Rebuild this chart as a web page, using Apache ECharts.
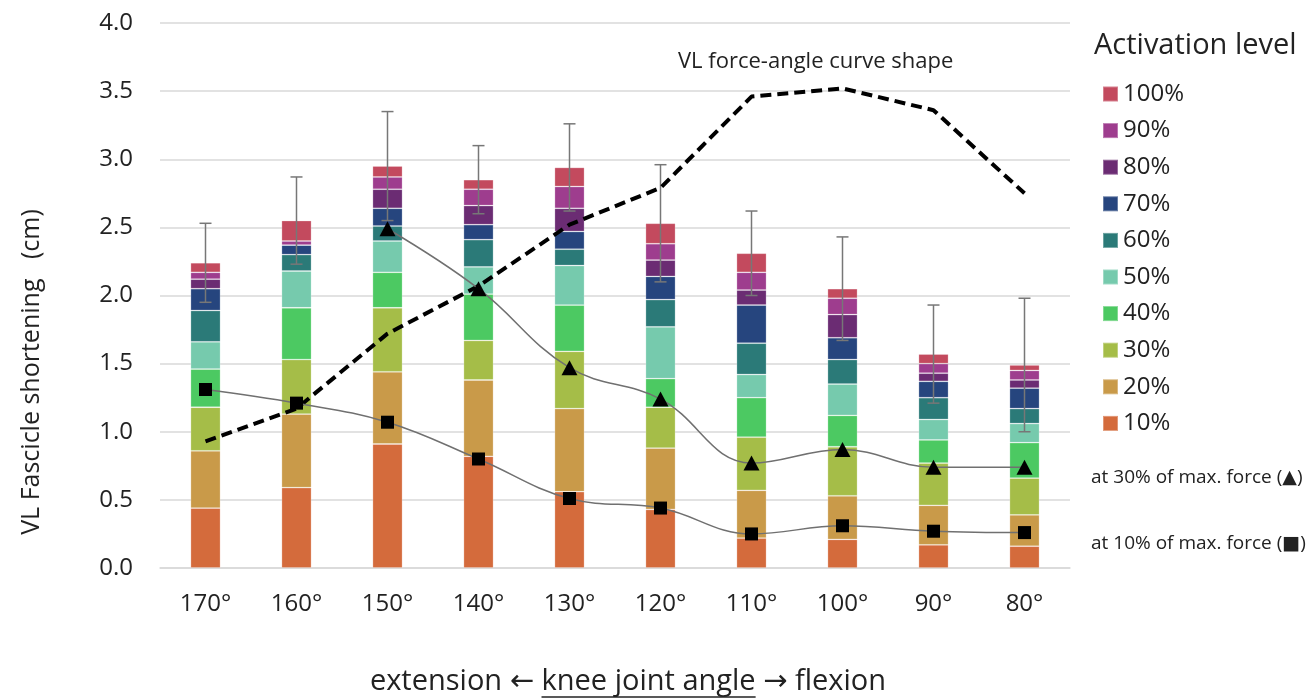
<!DOCTYPE html>
<html>
<head>
<meta charset="utf-8">
<script src="https://cdn.jsdelivr.net/npm/echarts@6/dist/echarts.min.js"></script>
<style>
  html, body { margin: 0; padding: 0; background: #fff; }
  #main { width: 1312px; height: 698px; }
</style>
</head>
<body>
<div id="main"></div>
<script>
var angles = ['170°', '160°', '150°', '140°', '130°', '120°', '110°', '100°', '90°', '80°'];
var levels = ['10%', '20%', '30%', '40%', '50%', '60%', '70%', '80%', '90%', '100%'];
var levelColors = ['#d46b3c', '#c99a49', '#a5bd48', '#4cc962', '#76caad',
                   '#2b7a78', '#26457e', '#6b2c73', '#9e3d8e', '#c34a5e'];

// shortening added at each activation level (cm), one value per angle
var act10  = [0.44, 0.59, 0.91, 0.82, 0.56, 0.43, 0.22, 0.21, 0.17, 0.16];
var act20  = [0.42, 0.54, 0.53, 0.56, 0.61, 0.45, 0.35, 0.32, 0.29, 0.23];
var act30  = [0.32, 0.40, 0.47, 0.29, 0.42, 0.30, 0.39, 0.36, 0.31, 0.27];
var act40  = [0.28, 0.38, 0.26, 0.34, 0.34, 0.21, 0.29, 0.23, 0.17, 0.26];
var act50  = [0.20, 0.27, 0.23, 0.20, 0.29, 0.38, 0.17, 0.23, 0.15, 0.14];
var act60  = [0.23, 0.12, 0.11, 0.20, 0.12, 0.20, 0.23, 0.18, 0.16, 0.11];
var act70  = [0.16, 0.07, 0.13, 0.11, 0.13, 0.17, 0.28, 0.16, 0.12, 0.15];
var act80  = [0.07, 0.00, 0.14, 0.14, 0.17, 0.12, 0.11, 0.17, 0.06, 0.06];
var act90  = [0.05, 0.03, 0.09, 0.12, 0.16, 0.12, 0.13, 0.12, 0.07, 0.07];
var act100 = [0.07, 0.15, 0.08, 0.07, 0.14, 0.15, 0.14, 0.07, 0.07, 0.04];
var levelData = [act10, act20, act30, act40, act50, act60, act70, act80, act90, act100];

// error of the total shortening
var errTotal = [0.29, 0.32, 0.40, 0.25, 0.32, 0.43, 0.31, 0.38, 0.36, 0.49];

// shortening at 30% and 10% of max force
var at30 = ['-', '-', 2.49, 2.05, 1.47, 1.24, 0.77, 0.87, 0.74, 0.74];
var at10 = [1.31, 1.21, 1.07, 0.80, 0.51, 0.44, 0.25, 0.31, 0.27, 0.26];

// force-angle curve shape (scaled to the same axis)
var forceShape = [0.93, 1.17, 1.72, 2.07, 2.52, 2.79, 3.46, 3.52, 3.36, 2.75];

var yTicks = [0, 0.5, 1, 1.5, 2, 2.5, 3, 3.5, 4];

var FONT = '"Open Sans", "DejaVu Sans", sans-serif';
var TXT = '#222';

var myChart = echarts.init(document.getElementById('main'));

var totals = angles.map(function (a, i) {
    var s = 0;
    levelData.forEach(function (arr) { s += arr[i]; });
    return s;
});

var series = levels.map(function (name, k) {
    return {
        name: name,
        type: 'bar',
        stack: 'act',
        barWidth: 30,
        itemStyle: {
            color: levelColors[k],
            borderColor: 'rgba(255,255,255,0.3)',
            borderWidth: 0.8
        },
        data: levelData[k]
    };
});

series.push({
    name: 'err',
    type: 'custom',
    z: 3,
    renderItem: function (params, api) {
        var i = api.value(0);
        var top = api.value(1), e = api.value(2);
        var hi = api.coord([i, top + e]);
        var lo = api.coord([i, top - e]);
        var st = { stroke: '#777', lineWidth: 1.5 };
        return {
            type: 'group',
            children: [
                { type: 'line', shape: { x1: hi[0], y1: hi[1], x2: lo[0], y2: lo[1] }, style: st },
                { type: 'line', shape: { x1: hi[0] - 6, y1: hi[1], x2: hi[0] + 6, y2: hi[1] }, style: st },
                { type: 'line', shape: { x1: lo[0] - 6, y1: lo[1], x2: lo[0] + 6, y2: lo[1] }, style: st }
            ]
        };
    },
    encode: { x: 0, y: 1 },
    data: angles.map(function (a, i) { return [i, totals[i], errTotal[i]]; })
});

series.push({
    name: 'force',
    type: 'line',
    z: 4,
    symbol: 'none',
    lineStyle: { color: '#000', width: 4, type: [11, 6] },
    data: forceShape
});

series.push({
    name: '30% force',
    type: 'line',
    z: 5,
    smooth: 0.4,
    symbol: 'triangle',
    symbolSize: [16, 15],
    itemStyle: { color: '#000' },
    lineStyle: { color: '#707070', width: 1.5 },
    data: at30
});

series.push({
    name: '10% force',
    type: 'line',
    z: 5,
    smooth: 0.4,
    symbol: 'rect',
    symbolSize: 13,
    itemStyle: { color: '#000' },
    lineStyle: { color: '#707070', width: 1.5 },
    data: at10
});

// underline under "knee joint angle"
var xTitleFont = '29px ' + FONT;
var ctx = document.createElement('canvas').getContext('2d');
ctx.font = xTitleFont;
var part1 = 'extension \u2190 ', part2 = 'knee joint angle', part3 = ' \u2192 flexion';
var w1 = ctx.measureText(part1).width;
var w2 = ctx.measureText(part2).width;
var wAll = ctx.measureText(part1 + part2 + part3).width;
var xTitleCx = 628, xTitleCy = 682;
var ulStart = xTitleCx - wAll / 2 + w1;

option = {
    animation: false,
    textStyle: { fontFamily: FONT },
    grid: { left: 160, right: 242, top: 23, bottom: 130 },
    legend: {
        data: levels.slice().reverse(),
        orient: 'vertical',
        left: 1102,
        top: 82,
        padding: 0,
        itemWidth: 15,
        itemHeight: 15,
        itemGap: 12.6,
        icon: 'rect',
        textStyle: { fontSize: 24, color: TXT, fontFamily: FONT, lineHeight: 24 }
    },
    xAxis: {
        type: 'category',
        data: angles,
        axisLine: { lineStyle: { color: '#d9d9d9', width: 1.5 } },
        axisTick: { show: false },
        axisLabel: { fontSize: 24, color: TXT, margin: 24 }
    },
    yAxis: {
        type: 'value',
        min: 0,
        max: 4,
        interval: 0.5,
        axisLine: { show: false },
        axisTick: { show: false },
        axisLabel: {
            fontSize: 24,
            color: TXT,
            margin: 27,
            formatter: function (v) { return yTicks.indexOf(v) >= 0 ? v.toFixed(1) : ''; }
        },
        splitLine: { lineStyle: { color: '#d9d9d9', width: 1.5 } }
    },
    graphic: [
        {
            type: 'text', x: 1094, y: 46,
            style: { text: 'Activation level', font: '29px ' + FONT, fill: TXT, align: 'left', verticalAlign: 'middle' }
        },
        {
            type: 'text', x: 678, y: 62,
            style: { text: 'VL force-angle curve shape', font: '22px ' + FONT, fill: TXT, align: 'left', verticalAlign: 'middle' }
        },
        {
            type: 'text', x: 1091, y: 478,
            style: { text: 'at 30% of max. force (\u25B2)', font: '19px ' + FONT, fill: TXT, align: 'left', verticalAlign: 'middle' }
        },
        {
            type: 'text', x: 1091, y: 544,
            style: { text: 'at 10% of max. force (\u25A0)', font: '19px ' + FONT, fill: TXT, align: 'left', verticalAlign: 'middle' }
        },
        {
            type: 'text', x: 32, y: 372, rotation: Math.PI / 2,
            style: { text: 'VL Fascicle shortening   (cm)', font: '25px ' + FONT, fill: TXT,
                     align: 'center', verticalAlign: 'middle' }
        },
        {
            type: 'text', x: xTitleCx, y: xTitleCy,
            style: { text: part1 + part2 + part3, font: xTitleFont, fill: TXT,
                     align: 'center', verticalAlign: 'middle' }
        },
        {
            type: 'line',
            shape: { x1: ulStart, y1: xTitleCy + 15, x2: ulStart + w2, y2: xTitleCy + 15 },
            style: { stroke: TXT, lineWidth: 1.5 }
        }
    ],
    series: series
};

myChart.setOption(option);
</script>
</body>
</html>
